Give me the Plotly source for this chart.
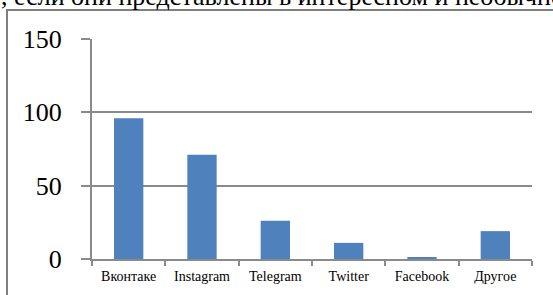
import plotly.graph_objects as go

categories = ["Вконтаке", "Instagram", "Telegram", "Twitter", "Facebook", "Другое"]
values = [96, 71, 26, 11, 1, 19]
y_ticks = [0, 50, 100, 150]

W, H = 553, 295
L, R, T, B = 92, 21, 39, 36
pw, ph = W - L - R, H - T - B

def px_to_paper_x(px):
    return (px - L) / pw

def px_to_paper_y(py):
    return (H - B - py) / ph

fig = go.Figure(go.Bar(x=categories, y=values, marker=dict(color="#4F81BD", line=dict(width=0))))

grid = "#8a8a8a"
fig.update_layout(
    width=W, height=H,
    margin=dict(l=L, r=R, t=T, b=B, autoexpand=False),
    paper_bgcolor="white", plot_bgcolor="white",
    bargap=0.6,
    showlegend=False,
    font=dict(family="Liberation Serif", color="black"),
)
fig.update_xaxes(
    showgrid=False, showline=True, linecolor=grid, linewidth=2,
    ticks="outside", tickson="boundaries", ticklen=5, tickcolor=grid, tickwidth=2,
    tickfont=dict(size=14, family="Liberation Serif", color="black"),
    ticklabelstandoff=3, automargin=False,
)
fig.update_yaxes(
    range=[0, 150], tickvals=y_ticks, showgrid=True, gridcolor=grid, gridwidth=2,
    showline=True, linecolor=grid, linewidth=2,
    ticks="outside", ticklen=9, tickcolor=grid, tickwidth=2,
    tickfont=dict(size=26, family="Liberation Serif", color="black"),
    ticklabelstandoff=14, zeroline=False, automargin=False,
)

# outer frame (extends beyond the visible window)
fig.add_shape(type="rect", xref="paper", yref="paper",
              x0=px_to_paper_x(7), x1=px_to_paper_x(600),
              y0=px_to_paper_y(340), y1=px_to_paper_y(10),
              line=dict(color="#7f7f7f", width=2), fillcolor="rgba(0,0,0,0)", layer="below")

# cropped document text above the chart
fig.add_annotation(text=", если они представлены в интересном и необычном виде",
                   xref="paper", yref="paper", x=px_to_paper_x(-1), y=px_to_paper_y(13),
                   xanchor="left", yanchor="bottom", showarrow=False,
                   font=dict(size=26, family="Liberation Serif", color="black"))

fig.write_html("out.html", config={"displayModeBar": False},
               post_script="document.body.style.margin='0';document.body.style.overflow='hidden';")
